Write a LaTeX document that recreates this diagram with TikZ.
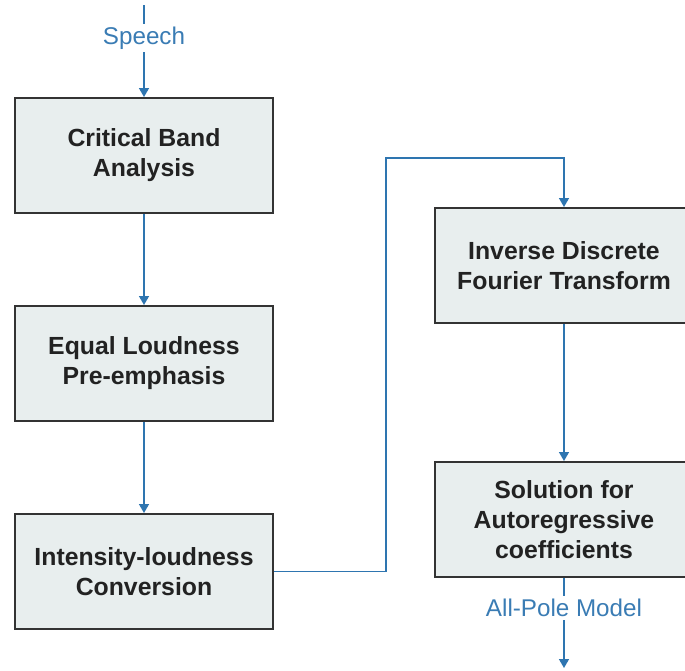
\documentclass[tikz,border=0pt]{standalone}
\usepackage{fontspec}
\setmainfont{Liberation Sans}
\usetikzlibrary{arrows.meta}
\definecolor{arrblue}{RGB}{46,117,176}
\definecolor{lblblue}{RGB}{58,124,180}
\definecolor{boxfill}{RGB}{232,238,238}
\definecolor{boxline}{RGB}{51,51,51}
\definecolor{txt}{RGB}{34,34,34}
\tikzset{
  procbox/.style={draw=boxline, line width=2pt, fill=boxfill, minimum width=258pt, minimum height=115pt,
    align=center, inner sep=0pt, text=txt, font=\fontsize{24.8}{30}\selectfont\bfseries},
  flow/.style={draw=arrblue, line width=1.5pt, -{Triangle[length=9pt,width=10pt]}},
  lbl/.style={fill=white, text=lblblue, inner sep=3pt, font=\fontsize{24.2}{28}\selectfont}
}
\begin{document}
\begin{tikzpicture}[x=1pt,y=-1pt]
\useasboundingbox (0,0) rectangle (685,670);
\node[procbox] (b1) at (144,155.5) {Critical Band\\Analysis};
\node[procbox] (b2) at (144,363.5) {Equal Loudness\\Pre-emphasis};
\node[procbox] (b3) at (144,571.5) {Intensity-loudness\\Conversion};
\node[procbox] (b4) at (564,265.5) {Inverse Discrete\\Fourier Transform};
\node[procbox] (b5) at (564,519.5) {Solution for\\Autoregressive\\coefficients};
\coordinate (s) at (144,5);
\coordinate (e) at (564,668);
\coordinate (k1) at (386,571.5);
\coordinate (k2) at (386,158);
\coordinate (k3) at (564,158);
\draw[flow] (s) -- (b1.north);
\node[lbl] (speech) at (144,38) {Speech};
\draw[flow] (b1.south) -- (b2.north);
\draw[flow] (b2.south) -- (b3.north);
\draw[flow] (b3.east) -- (k1) -- (k2) -- (k3) -- (b4.north);
\draw[flow] (b4.south) -- (b5.north);
\draw[flow] (b5.south) -- (e);
\node[lbl] (apm) at (564,608) {All-Pole Model};
\end{tikzpicture}
\end{document}
